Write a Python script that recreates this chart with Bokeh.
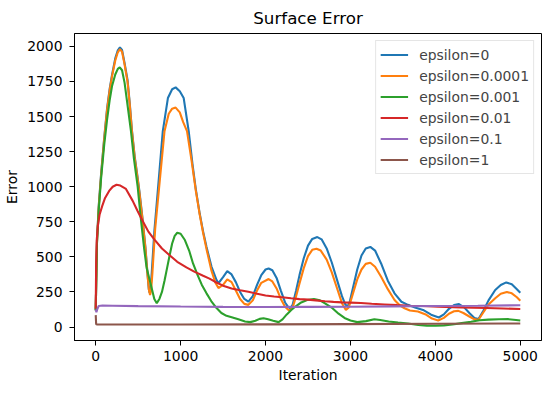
from bokeh.plotting import figure
from bokeh.models import FixedTicker, Range1d
from bokeh.embed import file_html
from bokeh.resources import INLINE

# ---- data ----
labels = ["epsilon=0", "epsilon=0.0001", "epsilon=0.001", "epsilon=0.01", "epsilon=0.1", "epsilon=1"]
colors = ["#1f77b4", "#ff7f0e", "#2ca02c", "#d62728", "#9467bd", "#8c564b"]

x_eps0 = [0, 15, 35, 63, 100, 134, 165, 193, 230, 260, 285, 310, 340, 375, 400, 427, 460, 490, 514, 550, 585, 610, 625, 635, 645,
          660, 690, 735, 790, 850, 900, 941, 990, 1036, 1095, 1140, 1178, 1225, 1265, 1305, 1364, 1423, 1445, 1500, 1549, 1600,
          1650, 1700, 1750, 1798, 1850, 1900, 1950, 2000, 2036, 2080, 2130, 2180, 2230, 2270, 2293, 2320, 2360, 2400, 2450, 2500,
          2550, 2610, 2660, 2720, 2780, 2840, 2900, 2940, 2966, 2990, 3030, 3080, 3130, 3180, 3234, 3290, 3361, 3440, 3519, 3600,
          3677, 3760, 3855, 3950, 4041, 4100, 4160, 4220, 4278, 4340, 4400, 4460, 4508, 4560, 4626, 4705, 4770, 4835, 4900, 4960, 5000]
y_eps0 = [120, 620, 860, 1090, 1350, 1560, 1700, 1800, 1915, 1972, 1993, 1975, 1880, 1760, 1600, 1400, 1210, 1080, 970, 780, 570, 380, 270, 245, 265,
          390, 680, 1000, 1396, 1632, 1695, 1708, 1680, 1632, 1396, 1160, 985, 807, 680, 570, 429, 335, 312, 355, 398, 375,
          320, 250, 200, 181, 220, 300, 370, 410, 417, 405, 350, 260, 175, 140, 134, 160, 260, 370, 490, 580,
          628, 641, 625, 560, 460, 340, 220, 160, 146, 175, 280, 410, 510, 560, 571, 545, 453, 330, 240, 180,
          158, 140, 122, 88, 68, 90, 130, 157, 163, 140, 100, 65, 57, 110, 190, 264, 300, 318, 305, 270, 245]

x_eps1e4 = [0, 15, 35, 63, 100, 134, 165, 193, 230, 260, 285, 310, 340, 375, 400, 427, 460, 490, 514, 550, 585, 610, 628, 640, 652,
            668, 700, 743, 810, 860, 900, 941, 990, 1030, 1075, 1130, 1178, 1225, 1265, 1305, 1364, 1410, 1445, 1500, 1549, 1600,
            1650, 1700, 1750, 1798, 1850, 1900, 1950, 2036, 2080, 2130, 2180, 2230, 2270, 2293, 2320, 2360, 2400, 2450, 2500,
            2550, 2600, 2650, 2720, 2780, 2840, 2900, 2946, 2980, 3030, 3080, 3130, 3180, 3234, 3290, 3361, 3440, 3519, 3580,
            3637, 3700, 3795, 3894, 3960, 4033, 4100, 4160, 4220, 4271, 4330, 4400, 4460, 4508, 4560, 4626, 4705, 4770, 4842,
            4900, 4960, 5000]
y_eps1e4 = [120, 610, 850, 1080, 1340, 1550, 1690, 1790, 1900, 1958, 1981, 1962, 1870, 1745, 1590, 1390, 1200, 1070, 960, 770, 560, 370, 260, 228, 260,
            390, 700, 972, 1396, 1520, 1556, 1564, 1530, 1460, 1396, 1180, 975, 800, 670, 555, 400, 315, 278, 300, 340, 320,
            260, 200, 165, 158, 190, 260, 315, 342, 325, 275, 200, 145, 122, 120, 140, 220, 310, 420, 505,
            550, 558, 545, 480, 390, 280, 170, 122, 140, 240, 340, 410, 450, 458, 430, 358, 270, 193, 155,
            134, 118, 111, 87, 60, 47, 65, 95, 112, 115, 100, 75, 55, 52, 100, 160, 205, 237, 250,
            240, 212, 188]

x_eps1e3 = [0, 15, 35, 63, 100, 134, 165, 193, 230, 260, 283, 310, 340, 375, 415, 450, 494, 530, 570, 600, 650, 690, 719, 750,
            780, 810, 840, 870, 900, 930, 960, 1000, 1050, 1100, 1146, 1200, 1250, 1305, 1360, 1423, 1480, 1540, 1601, 1680, 1759,
            1820, 1880, 1930, 1976, 2030, 2090, 2154, 2200, 2250, 2300, 2352, 2420, 2490, 2569, 2640, 2700, 2788, 2860, 2930,
            3000, 3080, 3183, 3281, 3350, 3450, 3560, 3677, 3800, 3900, 4001, 4100, 4200, 4310, 4420, 4520, 4626, 4750, 4862,
            4950, 5000]
y_eps1e3 = [120, 600, 830, 1060, 1300, 1480, 1620, 1720, 1800, 1840, 1851, 1830, 1740, 1580, 1396, 1200, 1000, 780, 560, 420, 300, 200, 170, 200,
            250, 330, 420, 510, 595, 650, 672, 665, 620, 545, 453, 370, 300, 240, 185, 135, 100, 80, 70, 55, 40,
            35, 45, 58, 62, 55, 45, 35, 55, 90, 120, 146, 175, 193, 200, 190, 168, 134, 95, 65,
            47, 35, 42, 55, 50, 40, 32, 25, 15, 10, 9, 12, 18, 28, 38, 48, 53, 55, 56,
            50, 46]

x_eps1e2 = [0, 5, 12, 25, 45, 75, 110, 158, 200, 245, 290, 356, 434, 490, 550, 620, 692, 780, 870, 960, 1068, 1160, 1265,
            1340, 1403, 1500, 1600, 1700, 1798, 1900, 2000, 2100, 2195, 2300, 2400, 2500, 2590, 2700, 2800, 2900, 3000,
            3123, 3250, 3400, 3550, 3700, 3850, 4033, 4300, 4600, 4800, 5000]
y_eps1e2 = [130, 450, 620, 720, 800, 860, 920, 970, 1000, 1014, 1008, 984, 901, 830, 760, 680, 623, 560, 512, 465, 425, 395, 365,
            345, 323, 295, 275, 262, 252, 237, 225, 218, 212, 205, 199, 195, 190, 184, 179, 176, 174,
            171, 166, 161, 156, 152, 150, 145, 140, 136, 132, 128]

x_eps1e1 = [0, 8, 20, 35, 80, 200, 500, 1000, 1500, 2000, 2500, 3000, 3500, 4000, 4500, 5000]
y_eps1e1 = [125, 105, 130, 150, 153, 152, 149, 146, 144, 143, 144, 145, 147, 150, 152, 155]

x_eps1 = [0, 5, 20, 500, 1000, 2000, 3000, 4000, 5000]
y_eps1 = [85, 20, 18, 18, 18, 19, 21, 23, 25]

xs = [x_eps0, x_eps1e4, x_eps1e3, x_eps1e2, x_eps1e1, x_eps1]
ys = [y_eps0, y_eps1e4, y_eps1e3, y_eps1e2, y_eps1e1, y_eps1]

x_ticks = [0, 1000, 2000, 3000, 4000, 5000]
y_ticks = [0, 250, 500, 750, 1000, 1250, 1500, 1750, 2000]

FONT = "DejaVu Sans"

p = figure(frame_width=467, frame_height=307, output_backend="svg", toolbar_location=None,
           x_range=Range1d(-250, 5250), y_range=Range1d(-96, 2092),
           title="Surface Error",
           min_border_left=74, min_border_right=7, min_border_top=33, min_border_bottom=52,
           background_fill_color="white", border_fill_color="white")

for xv, yv, c, lab in zip(xs, ys, colors, labels):
    p.line(xv, yv, line_color=c, line_width=2.1, legend_label=lab)

p.title.align = "center"
p.title.text_font = FONT
p.title.text_font_size = "16.7px"
p.title.text_font_style = "normal"
p.title.text_color = "black"
p.title.standoff = 11

p.xaxis.axis_label = "Iteration"
p.yaxis.axis_label = "Error"
p.xaxis.ticker = FixedTicker(ticks=x_ticks)
p.yaxis.ticker = FixedTicker(ticks=y_ticks)
for ax in (p.xaxis, p.yaxis):
    ax.axis_label_text_font = FONT
    ax.axis_label_text_font_size = "13.9px"
    ax.axis_label_text_font_style = "normal"
    ax.axis_label_text_color = "black"
    ax.major_label_text_font = FONT
    ax.major_label_text_font_size = "13.9px"
    ax.major_label_text_color = "black"
    ax.minor_tick_line_color = None
    ax.major_tick_in = 0
    ax.major_tick_out = 5
    ax.major_tick_line_color = "black"
    ax.axis_line_color = "black"
p.xaxis.major_label_standoff = 5
p.yaxis.major_label_standoff = 7
p.xaxis.axis_label_standoff = 3
p.yaxis.axis_label_standoff = 4

p.xgrid.visible = False
p.ygrid.visible = False
p.outline_line_color = "black"
p.outline_line_width = 1
p.outline_line_alpha = 1

lg = p.legend[0]
lg.location = "top_right"
lg.margin = 7
lg.padding = 4
lg.spacing = 2
lg.label_height = 19
lg.glyph_height = 19
lg.glyph_width = 28
lg.label_standoff = 11
lg.label_text_font = FONT
lg.label_text_font_size = "13.9px"
lg.border_line_color = "#cccccc"
lg.border_line_width = 1
lg.background_fill_alpha = 0.8

open("out.html", "w").write(file_html(p, INLINE))
